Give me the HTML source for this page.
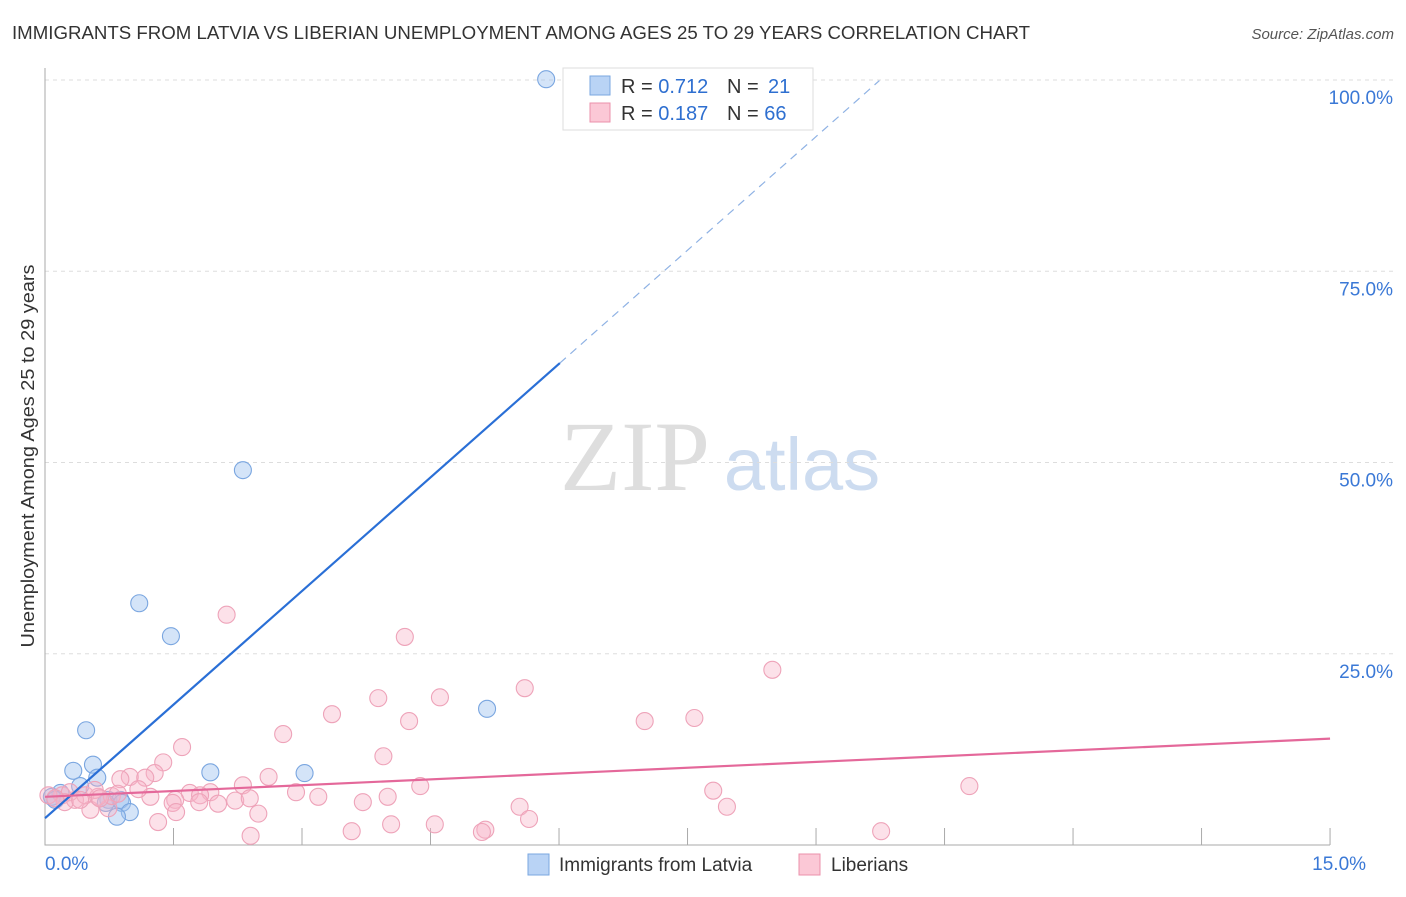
<!DOCTYPE html>
<html><head><meta charset="utf-8"><style>
body{margin:0;background:#fff;font-family:"Liberation Sans",sans-serif}
</style></head><body>
<svg width="1406" height="892" xmlns="http://www.w3.org/2000/svg" id="c" font-family="Liberation Sans, sans-serif">
<text x="12" y="39" font-size="18" fill="#333" textLength="1018" lengthAdjust="spacingAndGlyphs">IMMIGRANTS FROM LATVIA VS LIBERIAN UNEMPLOYMENT AMONG AGES 25 TO 29 YEARS CORRELATION CHART</text>
<text x="1394" y="39" font-size="15" fill="#555" font-style="italic" text-anchor="end">Source: ZipAtlas.com</text>
<text x="635" y="490" font-size="100" fill="#dedede" font-family="Liberation Serif, serif" text-anchor="middle">ZIP</text>
<text x="802" y="490" font-size="74" fill="#cddcf0" text-anchor="middle">atlas</text>
<text transform="translate(34,456) rotate(-90)" font-size="18" fill="#333" text-anchor="middle" textLength="383" lengthAdjust="spacingAndGlyphs">Unemployment Among Ages 25 to 29 years</text>
<g id="grid"></g><g id="pts"></g><g id="lines"></g>
<g>
<rect x="563" y="68" width="250" height="62" fill="#fff" stroke="#ddd"/>
<rect x="590" y="76" width="20" height="19" fill="#b9d3f5" stroke="#7aa7e0"/>
<rect x="590" y="103" width="20" height="19" fill="#fbc8d6" stroke="#eb90ab"/>
<text x="621" y="93" font-size="20" fill="#333">R = <tspan fill="#2e6fd0">0.712</tspan></text>
<text x="727" y="93" font-size="20" fill="#333">N = <tspan fill="#2e6fd0" x="768">21</tspan></text>
<text x="621" y="120" font-size="20" fill="#333">R = <tspan fill="#2e6fd0">0.187</tspan></text>
<text x="727" y="120" font-size="20" fill="#333">N = <tspan fill="#2e6fd0">66</tspan></text>
</g>
<g>
<rect x="528" y="854" width="21" height="21" fill="#b9d3f5" stroke="#7aa7e0"/>
<text x="559" y="871" font-size="19" fill="#333">Immigrants from Latvia</text>
<rect x="799" y="854" width="21" height="21" fill="#fbc8d6" stroke="#eb90ab"/>
<text x="831" y="871" font-size="19" fill="#333">Liberians</text>
</g>
</svg>
<script>
const yTicks=[25,50,75,100];
const yTickLabels=["25.0%","50.0%","75.0%","100.0%"];
const xTickLabels=["0.0%","15.0%"];
const latviaX=[5.85,2.31,1.10,1.47,0.48,5.16,0.56,0.33,0.61,1.93,3.03,0.41,0.18,0.08,0.12,0.74,0.88,0.71,0.90,0.99,0.84];
const latviaY=[100.1,49.0,31.6,27.3,15.0,17.8,10.5,9.7,8.8,9.5,9.4,7.7,6.8,6.3,5.9,5.9,5.9,5.5,5.5,4.3,3.7];
const liberX=[2.12,4.20,8.49,5.60,4.61,3.89,3.35,4.25,7.00,7.58,2.78,1.60,3.95,1.38,1.28,0.99,1.17,0.88,2.31,2.61,4.38,7.80,10.79,1.93,2.93,3.19,1.69,1.81,1.23,1.52,2.22,2.39,3.71,4.00,2.02,1.80,1.49,5.54,7.96,2.49,0.53,0.74,0.35,0.20,0.04,0.29,0.47,0.62,0.78,1.09,0.85,0.58,1.32,1.53,4.04,4.55,3.58,5.14,5.10,9.76,2.40,5.65,0.64,0.23,0.41,0.12];
const liberY=[30.1,27.2,22.9,20.5,19.3,19.2,17.1,16.2,16.2,16.6,14.5,12.8,11.6,10.8,9.4,8.9,8.8,8.6,7.8,8.9,7.7,7.1,7.7,6.9,6.9,6.3,6.8,6.5,6.3,5.9,5.8,6.1,5.6,6.3,5.4,5.6,5.5,5.0,5.0,4.1,4.6,4.8,5.9,6.5,6.5,6.9,6.5,6.3,6.4,7.3,6.7,7.2,3.0,4.3,2.7,2.7,1.8,2.0,1.7,1.8,1.2,3.4,6.1,5.6,5.9,6.1];
const latviaFit=[3.5,9.9];
const liberFit=[6.3,0.507];
const X=v=>45+v*85.67, Y=v=>845-v*7.65;
const NS="http://www.w3.org/2000/svg";
function mk(t,a,p){const e=document.createElementNS(NS,t);for(const k in a)e.setAttribute(k,a[k]);p.appendChild(e);return e;}
const g=document.getElementById('grid');
yTicks.forEach((t,i)=>{
 const l=mk('line',{x1:45,x2:1394,y1:Y(t),y2:Y(t),stroke:'#ddd','stroke-dasharray':'4,4'},g);
 
 
 const tx=mk('text',{x:1393,y:Y(t)+24,'font-size':19,fill:'#3a78d6','text-anchor':'end'},g);
 tx.textContent=yTickLabels[i];
 
 
});
for(let i=1;i<=10;i++){const x=X(i*1.5);const t=mk('line',{x1:x,x2:x,y1:828,y2:845,stroke:'#aaa'},g);
 
 }
const ax=mk('path',{d:'M45,68V845H1330',fill:'none',stroke:'#aaa'},g);


[[X(0),'start',0],[X(15)+36,'end',1]].forEach(([x,a,i])=>{const t=mk('text',{x:x,y:870,'font-size':19,fill:'#3a78d6','text-anchor':a},g);t.textContent=xTickLabels[i];
 
 });
const p=document.getElementById('pts');
latviaX.forEach((x,i)=>{const c=mk('circle',{cx:X(x),cy:Y(latviaY[i]),r:8.5,fill:'rgba(160,196,240,0.45)',stroke:'#7aa6e0','stroke-width':1.1},p);
 
 });
liberX.forEach((x,i)=>{const c=mk('circle',{cx:X(x),cy:Y(liberY[i]),r:8.5,fill:'rgba(248,180,200,0.4)',stroke:'#eea3b9','stroke-width':1.1},p);
 
 });
const L=document.getElementById('lines');
const xs=6.01, xe=9.74;
let e=mk('line',{x1:X(0),y1:Y(latviaFit[0]),x2:X(xs),y2:Y(latviaFit[0]+latviaFit[1]*xs),stroke:'#2a6fd6','stroke-width':2.2},L);


e=mk('line',{x1:X(xs),y1:Y(latviaFit[0]+latviaFit[1]*xs),x2:X(xe),y2:Y(latviaFit[0]+latviaFit[1]*xe),stroke:'#8fb2e4','stroke-width':1.2,'stroke-dasharray':'8,6'},L);


e=mk('line',{x1:X(0),y1:Y(liberFit[0]),x2:X(15),y2:Y(liberFit[0]+liberFit[1]*15),stroke:'#e4689a','stroke-width':2.2},L);


</script>
</body></html>
